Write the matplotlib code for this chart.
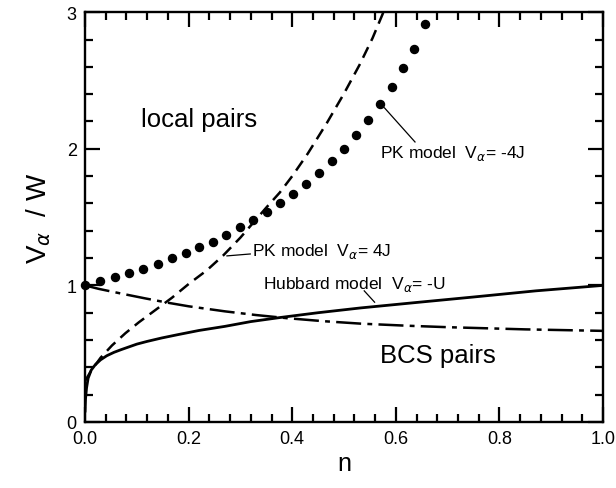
import numpy as np
import matplotlib
matplotlib.use("Agg")
import matplotlib.pyplot as plt
from matplotlib.ticker import MultipleLocator

plt.rcParams['font.family'] = ['Liberation Sans', 'DejaVu Sans']
plt.rcParams['mathtext.fontset'] = 'dejavusans'
plt.rcParams['lines.scale_dashes'] = False

# PK model V_alpha = -4J (dots)
pk_neg_n = [0.0, 0.029, 0.057, 0.085, 0.112, 0.140, 0.167, 0.194, 0.220, 0.247,
            0.273, 0.299, 0.325, 0.351, 0.376, 0.402, 0.427, 0.452, 0.476, 0.500,
            0.524, 0.547, 0.570, 0.592, 0.614, 0.636, 0.657]
pk_neg_v = [1.0, 1.03, 1.06, 1.09, 1.12, 1.16, 1.20, 1.24, 1.28, 1.32,
            1.37, 1.43, 1.48, 1.54, 1.60, 1.67, 1.745, 1.82, 1.91, 2.0,
            2.10, 2.21, 2.33, 2.45, 2.59, 2.73, 2.91]

# PK model V_alpha = 4J (dashed)
pk_pos_n = [0.0, 0.011, 0.03, 0.052, 0.078, 0.104, 0.136, 0.168, 0.20, 0.235,
            0.267, 0.30, 0.325, 0.35, 0.376, 0.40, 0.43, 0.467, 0.50, 0.53,
            0.555, 0.576]
pk_pos_v = [0.30, 0.37, 0.47, 0.56, 0.65, 0.73, 0.82, 0.91, 1.01, 1.11,
            1.22, 1.35, 1.46, 1.57, 1.68, 1.80, 1.965, 2.19, 2.405, 2.615,
            2.81, 3.0]

# Hubbard model V_alpha = -U (solid)
hub_n = [0.0, 0.001, 0.003, 0.006, 0.012, 0.02, 0.03, 0.042, 0.056, 0.07,
         0.085, 0.1, 0.12, 0.148, 0.18, 0.22, 0.27, 0.32, 0.377, 0.45,
         0.532, 0.64, 0.75, 0.87, 1.0]
hub_v = [0.07, 0.17, 0.25, 0.32, 0.38, 0.42, 0.455, 0.485, 0.51, 0.53,
         0.55, 0.57, 0.59, 0.615, 0.64, 0.67, 0.70, 0.735, 0.765, 0.80,
         0.835, 0.875, 0.915, 0.96, 1.0]

# dash-dot curve
bcs_n = [0.0, 0.026, 0.07, 0.116, 0.16, 0.2, 0.27, 0.33, 0.39, 0.46,
         0.532, 0.62, 0.7, 0.85, 1.0]
bcs_v = [1.0, 0.975, 0.94, 0.905, 0.873, 0.847, 0.81, 0.783, 0.76, 0.738,
         0.72, 0.705, 0.694, 0.678, 0.667]

fig = plt.figure(figsize=(6.16, 4.89), dpi=100)
ax = fig.add_axes([0.138, 0.135, 0.841, 0.838])

ax.plot(hub_n, hub_v, color='black', lw=2.0, solid_capstyle='butt')
ax.plot(pk_pos_n, pk_pos_v, color='black', lw=1.8, dashes=(8.5, 5))
ax.plot(bcs_n, bcs_v, color='black', lw=1.8, dashes=(18, 4.5, 3.5, 4.5))
ax.plot(pk_neg_n, pk_neg_v, 'o', color='black', ms=5.8, clip_on=False)

ax.set_xlim(0, 1)
ax.set_ylim(0, 3)
ax.xaxis.set_major_locator(MultipleLocator(0.2))
ax.xaxis.set_minor_locator(MultipleLocator(0.04))
ax.yaxis.set_major_locator(MultipleLocator(1))
ax.yaxis.set_minor_locator(MultipleLocator(0.2))
ax.xaxis.set_major_formatter(plt.FuncFormatter(lambda v, p: f"{v:.1f}"))
ax.yaxis.set_major_formatter(plt.FuncFormatter(lambda v, p: f"{v:.0f}"))

ax.tick_params(which='both', direction='in', top=True, right=True, width=1.6,
               labelsize=13)
ax.tick_params(which='major', length=11, pad=6)
ax.tick_params(which='minor', length=5.5)
for s in ax.spines.values():
    s.set_linewidth(1.7)

ax.set_xlabel('n', fontsize=18, labelpad=3)
ax.set_ylabel(r'V$_{\alpha}$  / W', fontsize=20, labelpad=10)

ax.text(0.108, 2.17, 'local pairs', fontsize=18.5)
ax.text(0.57, 0.44, 'BCS pairs', fontsize=18.5)

ax.text(0.569, 1.94, r'PK model  V$_{\alpha}$= -4J', fontsize=12.5)
ax.plot([0.578, 0.637], [2.30, 2.05], color='black', lw=0.9)

ax.text(0.322, 1.22, r'PK model  V$_{\alpha}$= 4J', fontsize=12.5)
ax.plot([0.274, 0.319], [1.216, 1.23], color='black', lw=0.9)

ax.text(0.344, 0.98, r'Hubbard model  V$_{\alpha}$= -U', fontsize=12.5)
ax.plot([0.539, 0.559], [0.96, 0.877], color='black', lw=0.9)

fig.savefig('out.png', dpi=100)
